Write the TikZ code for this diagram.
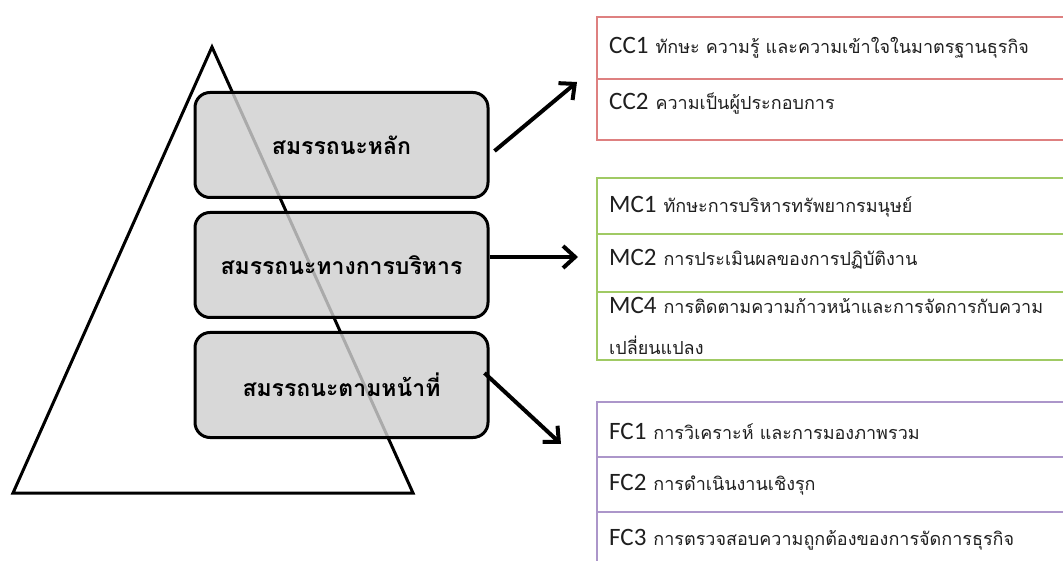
\documentclass[tikz,border=0pt]{standalone}
\usepackage{fontspec}
\setmainfont{Carlito}
\newfontfamily\thaifont[Script=Thai]{Loma}
\newfontfamily\latinfont{Carlito}
\usetikzlibrary{arrows.meta}
\definecolor{redline}{RGB}{222,128,128}
\definecolor{greenline}{RGB}{160,202,100}
\definecolor{purpleline}{RGB}{172,150,202}
\definecolor{boxgray}{RGB}{208,208,208}
\tikzset{
  level/.style={draw=black, line width=3pt, rounded corners=15pt, fill=boxgray, fill opacity=0.82, text opacity=1,
    minimum width=293pt, minimum height=105pt, inner sep=0pt,
    font=\thaifont\bfseries\fontsize{23}{27}\selectfont},
  itemtxt/.style={anchor=west, inner sep=0pt, text=black!88},
  linkarrow/.style={line width=4pt, -{Straight Barb[length=12pt,width=22pt,line width=4pt]}},
}
\newcommand{\itm}[2]{{\latinfont\fontsize{25}{28}\selectfont #1}\hspace{7pt}{\thaifont\fontsize{18}{22}\selectfont #2}}
\begin{document}
\begin{tikzpicture}[x=1pt,y=-1pt]
\useasboundingbox (0,0) rectangle (1063,561);
% pyramid
\coordinate (apex) at (212,47);
\coordinate (bl) at (13,493);
\coordinate (br) at (413,493);
\draw[line width=3pt, line join=miter] (apex) -- (bl) -- (br) -- cycle;
% level boxes
\node[level] (core) at (341.5,145) {สมรรถนะหลัก};
\node[level] (mgmt) at (341.5,265) {สมรรถนะทางการบริหาร};
\node[level] (func) at (341.5,385) {สมรรถนะตามหน้าที่};
% right side boxes
\draw[redline, line width=1.5pt] (1063,17) -- (597,17) -- (597,140) -- (1063,140);
\draw[redline, line width=1.5pt] (597,79) -- (1063,79);
\draw[greenline, line width=1.5pt] (1063,178) -- (597,178) -- (597,360) -- (1063,360);
\draw[greenline, line width=2.5pt] (597,234) -- (1063,234);
\draw[greenline, line width=2.5pt] (597,292) -- (1063,292);
\draw[purpleline, line width=1.5pt] (1063,402) -- (597,402) -- (597,561);
\draw[purpleline, line width=1.5pt] (597,457) -- (1063,457);
\draw[purpleline, line width=1.5pt] (597,512) -- (1063,512);
% texts
\node[itemtxt] (cc1) at (609,48) {\itm{CC1}{ทักษะ ความรู้ และความเข้าใจในมาตรฐานธุรกิจ}};
\node[itemtxt] (cc2) at (609,104) {\itm{CC2}{ความเป็นผู้ประกอบการ}};
\node[itemtxt] (mc1) at (609,207) {\itm{MC1}{ทักษะการบริหารทรัพยากรมนุษย์}};
\node[itemtxt] (mc2) at (609,259) {\itm{MC2}{การประเมินผลของการปฏิบัติงาน}};
\node[itemtxt] (mc4) at (609,305) {\itm{MC4}{การติดตามความก้าวหน้าและการจัดการกับความ}};
\node[itemtxt] (mc4b) at (609,345) {{\thaifont\fontsize{18}{22}\selectfont เปลี่ยนแปลง}};
\node[itemtxt] (fc1) at (609,431) {\itm{FC1}{การวิเคราะห์ และการมองภาพรวม}};
\node[itemtxt] (fc2) at (609,485) {\itm{FC2}{การดำเนินงานเชิงรุก}};
\node[itemtxt] (fc3) at (609,540) {\itm{FC3}{การตรวจสอบความถูกต้องของการจัดการธุรกิจ}};
% arrows
\coordinate (t1) at (577,82);
\coordinate (t2) at (578,257);
\coordinate (t3) at (561,444);
\draw[linkarrow] (core.east) ++(5,6) -- (t1);
\draw[linkarrow] (mgmt.east) ++(0,-8) -- (t2);
\draw[linkarrow] (func.east) ++(-5,-12) -- (t3);
\end{tikzpicture}
\end{document}
